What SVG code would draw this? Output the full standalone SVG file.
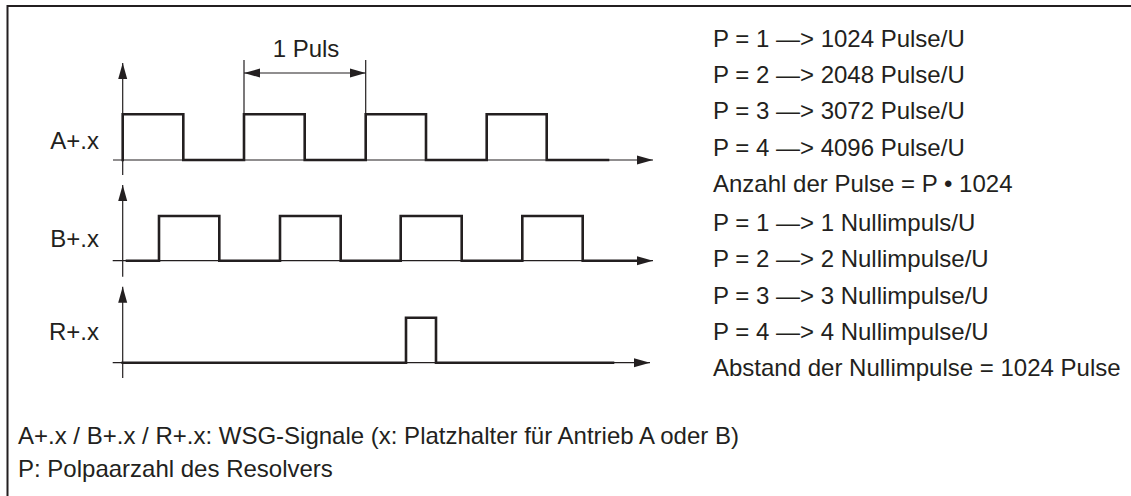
<svg xmlns="http://www.w3.org/2000/svg" width="1131" height="496" viewBox="0 0 1131 496">
<style>
.t{font-family:"Liberation Sans",Arial,sans-serif;font-size:24px;fill:#231f20}
.lb{text-anchor:end}
.ax{stroke:#231f20;stroke-width:1.2;fill:none}
.sig{stroke:#231f20;stroke-width:2.6;fill:none;stroke-linejoin:miter;stroke-linecap:square}
.fr{stroke:#231f20;stroke-width:2;fill:none}
</style>
<defs>
<marker id="ah" markerUnits="userSpaceOnUse" markerWidth="16" markerHeight="10" refX="16" refY="4.5" orient="auto-start-reverse" viewBox="0 0 16 9">
<path d="M0,0 L16,4.5 L0,9 z" fill="#231f20"/>
</marker>
</defs>
<rect width="1131" height="496" fill="#fff"/>
<path class="fr" d="M7.5,496 V6 H1131"/>
<g id="signal-A">
<line class="ax" x1="122.7" y1="175" x2="122.7" y2="63" marker-end="url(#ah)"/>
<line class="ax" x1="113" y1="160" x2="653" y2="160" marker-end="url(#ah)"/>
<path class="sig" d="M122.7,160 V114.3 H183.3 V160 H244 V114.3 H304.7 V160 H365.7 V114.3 H426 V160 H486.7 V114.3 H546.7 V160 H608"/>
<text class="t lb" x="99" y="149">A+.x</text>
</g>
<g id="dimension-1-puls">
<line class="ax" x1="244" y1="60" x2="244" y2="114"/>
<line class="ax" x1="365.7" y1="60" x2="365.7" y2="114"/>
<line class="ax" x1="244" y1="73" x2="365.7" y2="73" marker-start="url(#ah)" marker-end="url(#ah)"/>
<text class="t" x="306" y="57" text-anchor="middle">1 Puls</text>
</g>
<g id="signal-B">
<line class="ax" x1="122.7" y1="276.7" x2="122.7" y2="185" marker-end="url(#ah)"/>
<line class="ax" x1="112.7" y1="260.7" x2="653" y2="260.7" marker-end="url(#ah)"/>
<path class="sig" d="M127,260.7 H159 V216 H219.3 V260.7 H280 V216 H340.7 V260.7 H400.7 V216 H461.7 V260.7 H522.3 V216 H582.7 V260.7 H638"/>
<text class="t lb" x="99" y="247">B+.x</text>
</g>
<g id="signal-R">
<line class="ax" x1="122.7" y1="378" x2="122.7" y2="286.7" marker-end="url(#ah)"/>
<line class="ax" x1="112.7" y1="362.7" x2="650" y2="362.7" marker-end="url(#ah)"/>
<path class="sig" d="M122.7,362.7 H406 V317.7 H436 V362.7 H613"/>
<text class="t lb" x="99" y="340">R+.x</text>
</g>
<g id="legend">
<text class="t" x="713" y="47">P = 1 —&gt; 1024 Pulse/U</text>
<text class="t" x="713" y="83">P = 2 —&gt; 2048 Pulse/U</text>
<text class="t" x="713" y="119">P = 3 —&gt; 3072 Pulse/U</text>
<text class="t" x="713" y="156">P = 4 —&gt; 4096 Pulse/U</text>
<text class="t" x="713" y="192">Anzahl der Pulse = P • 1024</text>
<text class="t" x="713" y="231">P = 1 —&gt; 1 Nullimpuls/U</text>
<text class="t" x="713" y="267">P = 2 —&gt; 2 Nullimpulse/U</text>
<text class="t" x="713" y="304">P = 3 —&gt; 3 Nullimpulse/U</text>
<text class="t" x="713" y="340">P = 4 —&gt; 4 Nullimpulse/U</text>
<text class="t" x="713" y="376">Abstand der Nullimpulse = 1024 Pulse</text>
</g>
<g id="footer">
<text class="t" x="18" y="444">A+.x / B+.x / R+.x: WSG-Signale (x: Platzhalter für Antrieb A oder B)</text>
<text class="t" x="18" y="477">P: Polpaarzahl des Resolvers</text>
</g>
</svg>
